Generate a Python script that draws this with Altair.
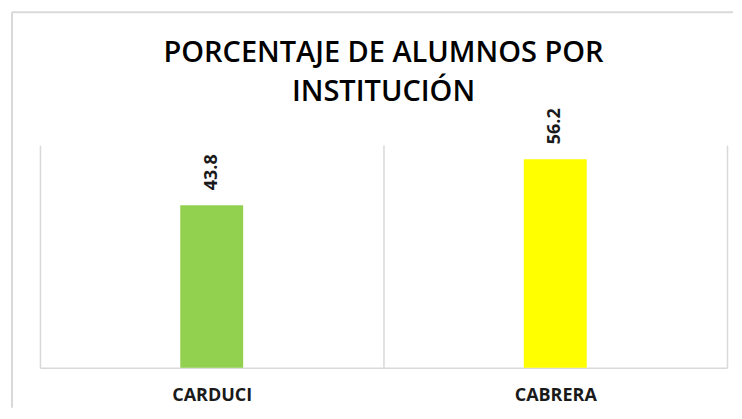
import altair as alt
import pandas as pd

institutions = ["CARDUCI", "CABRERA"]
percentages = [43.8, 56.2]
bar_colors = ["#92D050", "#FFFF00"]
title_lines = ["PORCENTAJE DE ALUMNOS POR", "INSTITUCIÓN"]

df = pd.DataFrame({"institucion": institutions, "porcentaje": percentages})

GRID = "#d9d9d9"
FONT = "Open Sans"

x = alt.X(
    "institucion:N",
    sort=institutions,
    title=None,
    scale=alt.Scale(paddingInner=0, paddingOuter=0),
    axis=alt.Axis(
        labelAngle=0, labelFont=FONT, labelFontWeight="bold", labelFontSize=18,
        labelColor="#1a1a1a", labelPadding=19, ticks=False,
        domainColor=GRID, domainWidth=1.5,
        grid=True, gridColor=GRID, gridWidth=1.5, tickBand="extent",
    ),
)
y = alt.Y("porcentaje:Q", scale=alt.Scale(domain=[0, 60], nice=False), axis=None)

bars = alt.Chart(df).mark_bar(width=63).encode(
    x=x, y=y,
    color=alt.Color("institucion:N", scale=alt.Scale(domain=institutions, range=bar_colors), legend=None),
)
labels = alt.Chart(df).mark_text(
    angle=270, align="left", baseline="middle", dx=15,
    font=FONT, fontWeight="bold", fontSize=18, color="#1a1a1a",
).encode(x=x, y=y, text=alt.Text("porcentaje:Q", format=".1f"))

frame = alt.Data(values=[{"k": 1}])
left_edge = alt.Chart(frame).mark_rule(color=GRID, strokeWidth=2).encode(
    x=alt.value(-28), y=alt.value(-133), y2=alt.value(263))
top_edge = alt.Chart(frame).mark_rule(color=GRID, strokeWidth=2).encode(
    x=alt.value(-28), x2=alt.value(694), y=alt.value(-133))

chart = alt.layer(left_edge, top_edge, bars, labels).properties(
    width=688, height=223,
    padding={"left": 3, "top": 3, "right": 0, "bottom": 0},
    title=alt.Title(title_lines, font=FONT, fontSize=29, fontWeight=600,
                    color="#000000", anchor="middle", lineHeight=39, offset=0, dy=96),
).configure_view(stroke=None)

chart.save("out.html", embed_options={"renderer": "svg", "actions": False})
